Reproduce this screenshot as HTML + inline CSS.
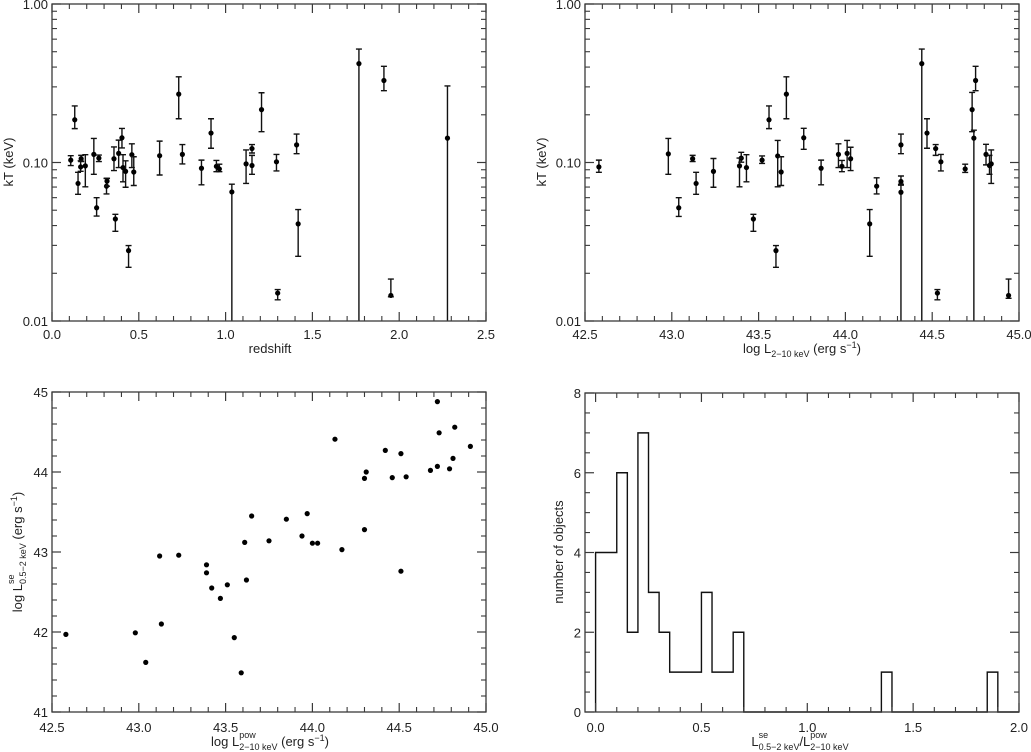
<!DOCTYPE html>
<html><head><meta charset="utf-8"><style>
html,body{margin:0;padding:0;background:#fff;}
svg{display:block;font-family:"Liberation Sans",sans-serif;}
</style></head><body>
<svg id="c" width="1031" height="752" viewBox="0 0 1031 752" xmlns="http://www.w3.org/2000/svg"></svg>
<script>
// Panel 1: redshift vs kT
const z1 = [0.108,0.131,0.150,0.168,0.165,0.192,0.241,0.257,0.270,0.314,0.317,0.357,0.365,0.384,0.403,0.409,0.424,0.441,0.460,0.471,0.620,0.730,0.751,0.861,0.916,0.947,0.964,1.036,1.118,1.152,1.152,1.207,1.293,1.300,1.409,1.418,1.768,1.912,1.952,2.278];
const kt1 = [.1035,.186,.0738,.1056,.0938,.0952,.1125,.0518,.1066,.0709,.0763,.1056,.0440,.1142,.1432,.0929,.0879,.0278,.112,.0871,.1104,.2701,.1125,.0920,.1534,.0946,.0911,.0652,.0980,.1224,.0957,.2155,.1010,.0150,.1292,.0410,.4207,.3290,.0145,.1425];
const lo1 = [.0957,.1636,.0630,.1014,.0880,.0702,.0842,.0459,.1014,.0633,.0709,.0889,.0368,.0929,.1236,.0755,.0698,.0218,.0929,.0716,.0834,.1888,.098,.0723,.1230,.0875,.0875,.01,.0738,.1148,.0842,.1565,.0885,.0136,.1137,.0256,.01,.2838,.0142,.01];
const hi1 = [.1104,.2275,.0867,.1109,.1025,.112,.1419,.0600,.1114,.0794,.0794,.1254,.0471,.1384,.1640,.112,.1025,.0299,.1312,.1087,.1364,.3472,.1298,.1035,.1888,.1030,.0976,.0730,.1200,.1298,.1109,.2755,.1125,.0158,.1512,.0505,.5196,.4045,.0184,.3041];
// Panel 2: log L(2-10) vs kT
const L2 = [42.58,42.98,43.04,43.12,43.14,43.24,43.40,43.39,43.43,43.47,43.52,43.56,43.60,43.61,43.63,43.66,43.76,43.86,43.96,43.98,44.01,44.03,44.14,44.18,44.32,44.32,44.32,44.44,44.47,44.52,44.53,44.55,44.69,44.73,44.74,44.75,44.81,44.83,44.84,44.94];
const kt2 = [.0938,.1133,.0518,.1056,.0738,.0879,.1066,.0952,.0929,.0440,.1035,.186,.0278,.110,.0871,.2701,.1432,.0920,.1125,.0946,.1142,.1056,.0410,.0709,.1292,.0759,.0649,.4207,.1534,.1224,.0150,.1010,.0911,.2155,.1425,.3290,.1125,.0957,.0980,.0145];
const lo2 = [.0867,.0842,.0457,.1014,.0630,.0698,.1005,.0702,.0755,.0368,.0986,.1636,.0218,.0702,.0716,.1888,.1211,.0723,.0929,.0875,.0929,.0889,.0256,.0633,.1137,.0719,.01,.01,.1230,.1109,.0136,.0885,.0866,.1565,.01,.2838,.0966,.0842,.0738,.0139];
const hi2 = [.1035,.1419,.0600,.1109,.0867,.106,.1159,.1066,.1120,.0471,.110,.2275,.0299,.1377,.1087,.3472,.1643,.1035,.1312,.1030,.1377,.1248,.0505,.0801,.1512,.0822,.0730,.5196,.1888,.1298,.0158,.1125,.0976,.2768,.16,.4045,.1303,.1109,.1200,.0184];
// Panel 3: scatter
const sx3 = [42.58,42.98,43.04,43.12,43.13,43.23,43.39,43.39,43.42,43.47,43.51,43.55,43.59,43.61,43.62,43.65,43.75,43.85,43.94,43.97,44.00,44.03,44.13,44.17,44.30,44.31,44.30,44.42,44.46,44.51,44.51,44.54,44.68,44.72,44.72,44.73,44.79,44.81,44.82,44.91];
const sy3 = [41.97,41.99,41.62,42.95,42.10,42.96,42.84,42.74,42.55,42.42,42.59,41.93,41.49,43.12,42.65,43.45,43.14,43.41,43.20,43.48,43.11,43.11,44.41,43.03,43.92,44.00,43.28,44.27,43.93,44.23,42.76,43.94,44.02,44.07,44.88,44.49,44.04,44.17,44.56,44.32];
// Panel 4: histogram (bin width 0.05 from 0 to 2.0)
const binStart = 0, binWidth = 0.05;
const counts = [4,4,6,2,7,3,2,1,1,1,3,1,1,2,0,0,0,0,0,0,0,0,0,0,0,0,0,1,0,0,0,0,0,0,0,0,0,1,0,0];

const NS="http://www.w3.org/2000/svg";
const svg=document.getElementById('c');
function mk(tag,attrs,parent){const e=document.createElementNS(NS,tag);for(const k in attrs)e.setAttribute(k,attrs[k]);(parent||svg).appendChild(e);return e;}
const FR="#3a3a3a";

function makeAxis(box,xmin,xmax,ymin,ymax,ylog){
  const sx=v=>box.x0+(v-xmin)/(xmax-xmin)*(box.x1-box.x0);
  const sy=ylog?(v=>box.y1-(Math.log10(v)-Math.log10(ymin))/(Math.log10(ymax)-Math.log10(ymin))*(box.y1-box.y0))
              :(v=>box.y1-(v-ymin)/(ymax-ymin)*(box.y1-box.y0));
  return {sx,sy};
}
function frame(g,box){
  const r=mk('rect',{x:box.x0,y:box.y0,width:box.x1-box.x0,height:box.y1-box.y0,fill:'none',stroke:FR,'stroke-width':1.3},g);
  
  
}
function xticks(g,box,ax,majors,minors,labels,ly){
  majors.forEach((v,i)=>{const x=ax.sx(v);
    mk('line',{x1:x,x2:x,y1:box.y1,y2:box.y1-9,stroke:FR,'stroke-width':1.2},g);
    mk('line',{x1:x,x2:x,y1:box.y0,y2:box.y0+9,stroke:FR,'stroke-width':1.2},g);
    const t=mk('text',{x:x,y:ly,'text-anchor':'middle','font-size':13,fill:'#222'},g);t.textContent=labels[i];
    
    
  });
  minors.forEach(v=>{const x=ax.sx(v);
    mk('line',{x1:x,x2:x,y1:box.y1,y2:box.y1-5,stroke:FR,'stroke-width':1.1},g);
    mk('line',{x1:x,x2:x,y1:box.y0,y2:box.y0+5,stroke:FR,'stroke-width':1.1},g);
  });
}
function yticks(g,box,ax,majors,minors,labels){
  majors.forEach((v,i)=>{const y=ax.sy(v);
    mk('line',{x1:box.x0,x2:box.x0+9,y1:y,y2:y,stroke:FR,'stroke-width':1.2},g);
    mk('line',{x1:box.x1,x2:box.x1-9,y1:y,y2:y,stroke:FR,'stroke-width':1.2},g);
    const t=mk('text',{x:box.x0-4,y:y+5,'text-anchor':'end','font-size':13,fill:'#222'},g);t.textContent=labels[i];
    
    
  });
  minors.forEach(v=>{const y=ax.sy(v);
    mk('line',{x1:box.x0,x2:box.x0+5,y1:y,y2:y,stroke:FR,'stroke-width':1.1},g);
    mk('line',{x1:box.x1,x2:box.x1-5,y1:y,y2:y,stroke:FR,'stroke-width':1.1},g);
  });
}
function range(a,b,s){const r=[];for(let v=a;v<=b+1e-9;v+=s)r.push(+v.toFixed(4));return r;}
const logMinors=[];for(let d of [0.01,0.1])for(let m=2;m<=9;m++)logMinors.push(d*m);

function errPanel(g,box,ax,xs,ys,lo,hi){
  xs.forEach((xv,i)=>{
    const x=ax.sx(xv), yl=Math.min(ax.sy(lo[i]),box.y1), yh=ax.sy(hi[i]);
    const eb=mk('path',{d:`M${x},${yl}V${yh}M${x-3},${yh}H${x+3}`+(lo[i]>0.0101?`M${x-3},${yl}H${x+3}`:''),stroke:'#111','stroke-width':1.4,fill:'none'},g);
    
    
    const c=mk('circle',{cx:x,cy:ax.sy(ys[i]),r:2.6,fill:'#000'},g);
    
    
  });
}
function label(g,cx,cy,parts,rot,name){
  const grp=mk('g',{},g);
  
  
  let x=0, stackStart=null, stackW=0;
  parts.forEach(p=>{
    const t=mk('text',{x:(stackStart!==null?stackStart:x),y:(p.dy||0),'font-size':p.fs||13,fill:'#222'},grp);
    t.textContent=p.t;
    const w=t.getComputedTextLength();
    if(p.stack){stackStart=x;stackW=w;}
    else if(stackStart!==null){x=stackStart+Math.max(w,stackW);stackStart=null;}
    else x+=w;
  });
  const tr=rot?`translate(${cx},${cy}) rotate(-90) translate(${-x/2},0)`:`translate(${cx-x/2},${cy})`;
  grp.setAttribute('transform',tr);
}
const SP='\u00a0';

// ---- Panel 1
{
  const g=mk('g',{});
  const box={x0:52,x1:486,y0:4,y1:321};
  const ax=makeAxis(box,0,2.5,0.01,1,true);
  errPanel(g,box,ax,z1,kt1,lo1,hi1);
  frame(g,box);
  xticks(g,box,ax,range(0,2.5,0.5),range(0.1,2.4,0.1).filter(v=>Math.abs(v*2-Math.round(v*2))>1e-6),['0.0','0.5','1.0','1.5','2.0','2.5'],339);
  yticks(g,box,ax,[0.01,0.1,1],logMinors,['0.01','0.10','1.00']);
  label(g,270,353,[{t:'redshift'}],false,'x-axis-title');
  label(g,13,162,[{t:'kT (keV)'}],true,'y-axis-title');
}
// ---- Panel 2
{
  const g=mk('g',{});
  const box={x0:585,x1:1019,y0:4,y1:321};
  const ax=makeAxis(box,42.5,45,0.01,1,true);
  errPanel(g,box,ax,L2,kt2,lo2,hi2);
  frame(g,box);
  xticks(g,box,ax,range(42.5,45,0.5),range(42.6,44.9,0.1).filter(v=>Math.abs(v*2-Math.round(v*2))>1e-6),['42.5','43.0','43.5','44.0','44.5','45.0'],339);
  yticks(g,box,ax,[0.01,0.1,1],logMinors,['0.01','0.10','1.00']);
  label(g,802,353,[{t:'log L'},{t:'2−10 keV',fs:9,dy:4},{t:SP+'(erg s'},{t:'−1',fs:9,dy:-5},{t:')'}],false,'x-axis-title');
  label(g,546,162,[{t:'kT (keV)'}],true,'y-axis-title');
}
// ---- Panel 3
{
  const g=mk('g',{});
  const box={x0:52,x1:486,y0:392,y1:712};
  const ax=makeAxis(box,42.5,45,41,45,false);
  sx3.forEach((xv,i)=>{const c=mk('circle',{cx:ax.sx(xv),cy:ax.sy(sy3[i]),r:2.6,fill:'#000'},g);
    
    });
  frame(g,box);
  xticks(g,box,ax,range(42.5,45,0.5),range(42.6,44.9,0.1).filter(v=>Math.abs(v*2-Math.round(v*2))>1e-6),['42.5','43.0','43.5','44.0','44.5','45.0'],732);
  yticks(g,box,ax,[41,42,43,44,45],range(41.2,44.8,0.2).filter(v=>Math.abs(v-Math.round(v))>1e-6),['41','42','43','44','45']);
  label(g,270,746,[{t:'log L'},{t:'pow',fs:9,dy:-8,stack:true},{t:'2−10 keV',fs:9,dy:4},{t:SP+'(erg s'},{t:'−1',fs:9,dy:-5},{t:')'}],false,'x-axis-title');
  label(g,22,552,[{t:'log L'},{t:'se',fs:9,dy:-8,stack:true},{t:'0.5−2 keV',fs:9,dy:4},{t:SP+'(erg s'},{t:'−1',fs:9,dy:-5},{t:')'}],true,'y-axis-title');
}
// ---- Panel 4
{
  const g=mk('g',{});
  const box={x0:585,x1:1019,y0:393,y1:712};
  const ax=makeAxis(box,-0.05,2.0,0,8,false);
  let d=`M${ax.sx(binStart)},${ax.sy(0)}`;
  counts.forEach((c,i)=>{const xa=ax.sx(binStart+i*binWidth),xb=ax.sx(binStart+(i+1)*binWidth),y=ax.sy(c);d+=`L${xa},${y}L${xb},${y}`;});
  d+=`L${ax.sx(binStart+counts.length*binWidth)},${ax.sy(0)}`;
  const p=mk('path',{d:d,fill:'none',stroke:'#111','stroke-width':1.4},g);
  
  
  frame(g,box);
  xticks(g,box,ax,range(0,2,0.5),range(0.1,1.9,0.1).filter(v=>Math.abs(v*2-Math.round(v*2))>1e-6),['0.0','0.5','1.0','1.5','2.0'],732);
  yticks(g,box,ax,[0,2,4,6,8],[0.5,1,1.5,2.5,3,3.5,4.5,5,5.5,6.5,7,7.5],['0','2','4','6','8']);
  label(g,800,746,[{t:'L'},{t:'se',fs:9,dy:-8,stack:true},{t:'0.5−2 keV',fs:9,dy:4},{t:'/L'},{t:'pow',fs:9,dy:-8,stack:true},{t:'2−10 keV',fs:9,dy:4}],false,'x-axis-title');
  label(g,563,552,[{t:'number of objects'}],true,'y-axis-title');
}
</script>
</body></html>
